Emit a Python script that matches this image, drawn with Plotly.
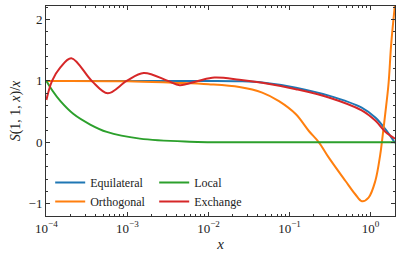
import plotly.graph_objects as go

# ---- data ----
equi_x = [1.0e-4, 1.0e-3, 1.0e-2, 2.4e-2, 4.6e-2, 0.120, 0.305, 0.776, 1.151, 1.528, 2.0]
equi_y = [1.0, 1.0, 1.0, 0.995, 0.975, 0.89, 0.76, 0.565, 0.40, 0.21, -0.01]

orth_x = [1.0e-4, 1.0e-3, 3.6e-3, 1.0e-2, 2.4e-2, 4.6e-2, 7.4e-2, 0.119, 0.174, 0.230,
          0.305, 0.49, 0.65, 0.782, 0.944, 1.143, 1.315, 1.377, 1.514, 1.663, 1.795, 2.0]
orth_y = [1.0, 0.995, 0.97, 0.945, 0.90, 0.81, 0.67, 0.46, 0.18, 0.0,
          -0.25, -0.63, -0.85, -0.96, -0.90, -0.63, -0.2, 0.0, 0.46, 0.95, 1.6, 2.25]

local_x = [1.0e-4, 1.19e-4, 1.49e-4, 2.16e-4, 3.47e-4, 5.56e-4, 1.42e-3, 5.85e-3, 3.0e-2, 0.3, 2.0]
local_y = [1.0, 0.84, 0.67, 0.46, 0.29, 0.17, 0.06, 0.01, 0.0, 0.0, 0.0]

exch_x = [1.0e-4, 1.175e-4, 1.486e-4, 2.03e-4, 3.63e-4, 5.71e-4, 9.77e-4, 1.585e-3, 3.16e-3,
          4.41e-3, 7.41e-3, 1.186e-2, 2.40e-2, 4.60e-2, 0.120, 0.305, 0.776, 1.151, 1.528, 2.0]
exch_y = [0.69, 1.0, 1.22, 1.37, 1.0, 0.80, 1.0, 1.13, 1.0,
          0.93, 1.0, 1.054, 1.02, 0.97, 0.865, 0.73, 0.52, 0.35, 0.17, 0.06]

x_tickvals = [1e-4, 1e-3, 1e-2, 1e-1, 1e0]
x_ticktext = ["10<sup>−4</sup>", "10<sup>−3</sup>", "10<sup>−2</sup>", "10<sup>−1</sup>", "10<sup>0</sup>"]
y_tickvals = [-1, 0, 1, 2]
y_ticktext = ["−1", "0", "1", "2"]

colors = {"Equilateral": "#1f77b4", "Orthogonal": "#ff7f0e", "Local": "#2ca02c", "Exchange": "#d62728"}
FONT = "Liberation Serif"

fig = go.Figure()
series = [
    ("Equilateral", equi_x, equi_y, "legend"),
    ("Orthogonal", orth_x, orth_y, "legend"),
    ("Local", local_x, local_y, "legend2"),
    ("Exchange", exch_x, exch_y, "legend2"),
]
for name, xs, ys, lg in series:
    fig.add_trace(go.Scatter(
        x=xs, y=ys, mode="lines", name=name, legend=lg,
        line=dict(color=colors[name], width=2, shape="spline", smoothing=1.0),
    ))

minor_x = [m * 10.0 ** e for e in range(-4, 1) for m in range(2, 10) if m * 10.0 ** e <= 2.0]

axis_common = dict(
    showline=True, linecolor="#333333", linewidth=1, mirror="allticks",
    ticks="inside", ticklen=4, tickwidth=1, tickcolor="#333333",
    showgrid=False, zeroline=False, automargin=False,
    tickfont=dict(family=FONT, size=13, color="#222222"),
)

fig.update_xaxes(
    type="log", range=[-4.005, 0.301],
    tickmode="array", tickvals=x_tickvals, ticktext=x_ticktext,
    minor=dict(tickmode="array", tickvals=minor_x, ticks="inside", ticklen=2,
               tickcolor="#333333", showgrid=False),
    title=dict(text="<i>x</i>", font=dict(family=FONT, size=15, color="#222222"), standoff=0),
    **axis_common,
)
fig.update_yaxes(
    range=[-1.2, 2.22],
    tickmode="array", tickvals=y_tickvals, ticktext=y_ticktext,
    minor=dict(dtick=0.2, ticks="inside", ticklen=2, tickcolor="#333333", showgrid=False),
    title=dict(text="<i>S</i>(1, 1, <i>x</i>)/<i>x</i>", font=dict(family=FONT, size=14, color="#222222"), standoff=4),
    **axis_common,
)

leg_common = dict(
    bgcolor="rgba(0,0,0,0)", borderwidth=0,
    font=dict(family=FONT, size=12, color="#222222"),
    xanchor="left", yanchor="bottom", tracegroupgap=0,
    itemwidth=30,
)
fig.update_layout(
    width=400, height=253,
    margin=dict(l=46, r=5, t=6, b=37),
    paper_bgcolor="white", plot_bgcolor="white",
    showlegend=True,
    legend=dict(x=0.012, y=0.0, **leg_common),
    legend2=dict(x=0.31, y=0.0, **leg_common),
)

fig.write_html(
    "out.html",
    config={"displayModeBar": False},
    post_script="document.body.style.margin='0';document.body.style.overflow='hidden';",
)
